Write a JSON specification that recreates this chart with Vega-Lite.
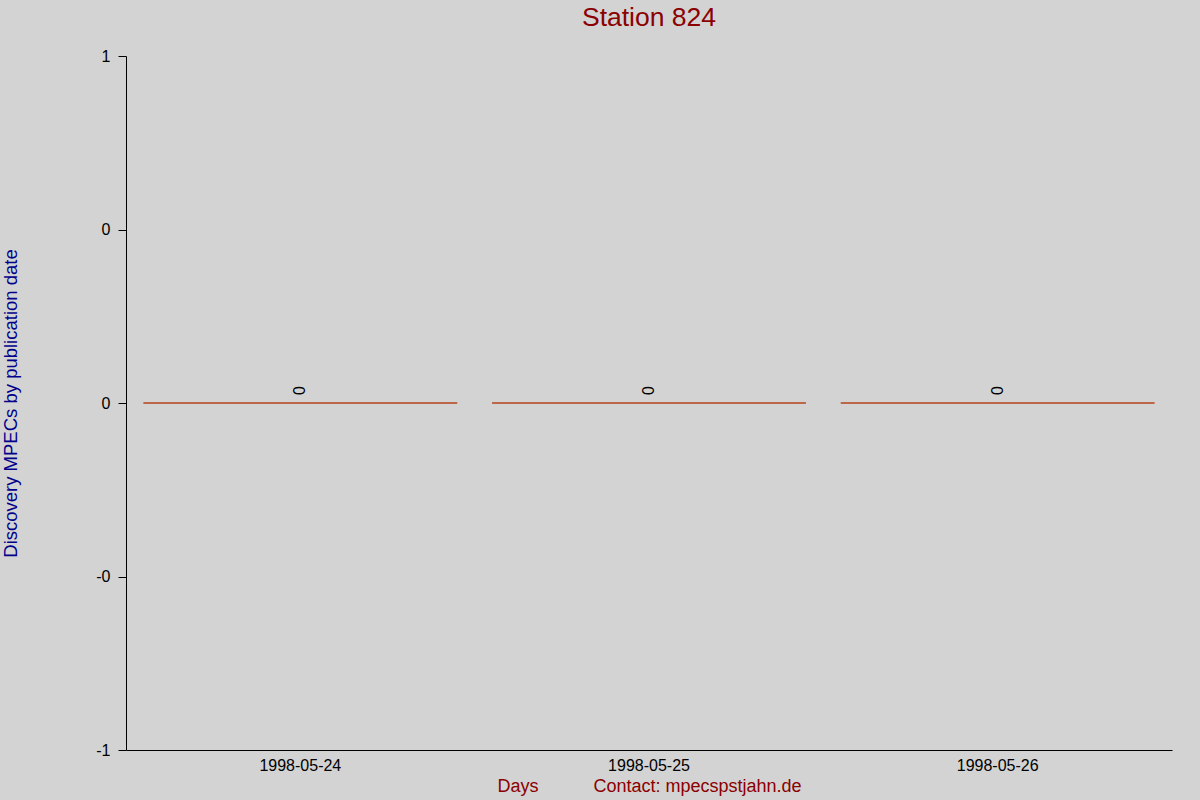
{
  "$schema": "https://vega.github.io/schema/vega-lite/v6.json",
  "width": 1046,
  "height": 694,
  "autosize": {"type": "none"},
  "padding": {"left": 126, "top": 56, "right": 28, "bottom": 50},
  "background": "#d3d3d3",
  "config": {
    "view": {"stroke": null},
    "font": "Liberation Sans"
  },
  "title": {
    "text": "Station 824",
    "color": "#8b0000",
    "fontSize": 26.5,
    "fontWeight": "normal",
    "anchor": "middle",
    "frame": "group",
    "baseline": "bottom",
    "offset": -10
  },
  "data": {
    "values": [
      {"day": "1998-05-24", "count": 0},
      {"day": "1998-05-25", "count": 0},
      {"day": "1998-05-26", "count": 0}
    ]
  },
  "encoding": {
    "x": {
      "field": "day",
      "type": "ordinal",
      "scale": {"paddingInner": 0.1, "paddingOuter": 0.05},
      "axis": {
        "title": "Days\u00a0\u00a0\u00a0\u00a0\u00a0\u00a0\u00a0\u00a0\u00a0\u00a0\u00a0Contact: mpecspstjahn.de",
        "titleColor": "#8b0000",
        "titleFontSize": 18,
        "titleFontWeight": "normal",
        "titleBaseline": "middle",
        "titleY": 36,
        "labelAngle": 0,
        "labelFontSize": 16,
        "labelColor": "#000000",
        "labelPadding": 7,
        "ticks": false,
        "domainColor": "#000000",
        "grid": false
      }
    },
    "y": {
      "field": "count",
      "type": "quantitative",
      "scale": {"domain": [-1, 1], "nice": false},
      "axis": {
        "title": "Discovery MPECs by publication date",
        "titleColor": "#00008b",
        "titleFontSize": 18.5,
        "titleFontWeight": "normal",
        "titleAngle": -90,
        "titleBaseline": "middle",
        "titleAlign": "center",
        "titleX": -116,
        "titleY": 347,
        "values": [-1, -0.5, 0, 0.5, 1],
        "labelExpr": "datum.value == 1 ? '1' : datum.value == -1 ? '-1' : datum.value < 0 ? '-0' : '0'",
        "labelFontSize": 16,
        "labelColor": "#000000",
        "labelPadding": 8,
        "tickSize": 8,
        "tickColor": "#000000",
        "domainColor": "#000000",
        "grid": false
      }
    }
  },
  "layer": [
    {
      "mark": {"type": "bar", "color": "#b5451b", "stroke": "#b5451b", "strokeWidth": 1},
      "encoding": {"y2": {"datum": 0}}
    },
    {
      "mark": {
        "type": "text",
        "angle": -90,
        "align": "left",
        "baseline": "middle",
        "dx": 8,
        "fontSize": 16,
        "color": "#000000"
      },
      "encoding": {"text": {"field": "count", "type": "quantitative"}}
    }
  ]
}
